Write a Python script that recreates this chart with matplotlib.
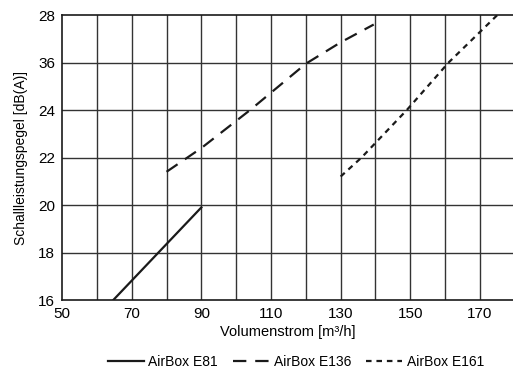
import matplotlib
matplotlib.use('Agg')
import matplotlib.pyplot as plt

plt.rcParams['font.family'] = ['Liberation Sans Narrow', 'Liberation Sans', 'DejaVu Sans']

# AirBox curves
e81_x = [64.7, 90]
e81_y = [16.0, 19.9]

e136_x = [80, 90, 104, 120, 130, 139.5]
e136_y = [21.4, 22.4, 24.0, 25.95, 26.85, 27.6]

e161_x = [130, 136, 149, 161, 175]
e161_y = [21.2, 22.0, 24.0, 26.0, 28.0]

x_ticks = [50, 70, 90, 110, 130, 150, 170]
y_ticks = [16, 18, 20, 22, 24, 26, 28]
y_tick_labels = ['16', '18', '20', '22', '24', '36', '28']

fig = plt.figure(figsize=(5.13, 3.76), dpi=100)
ax = fig.add_axes([0.121, 0.202, 0.879, 0.758])

# grid every 10 m3/h, every 2 dB
for gx in range(60, 180, 10):
    ax.axvline(gx, color='#333333', lw=1.0, zorder=1)
for gy in y_ticks[1:-1]:
    ax.axhline(gy, color='#333333', lw=1.0, zorder=1)

ax.plot(e81_x, e81_y, color='#1a1a1a', lw=1.6, label='AirBox E81', zorder=3)
ax.plot(e136_x, e136_y, color='#1a1a1a', lw=1.6, dashes=(6, 4), label='AirBox E136', zorder=3)
ax.plot(e161_x, e161_y, color='#1a1a1a', lw=1.6, dashes=(2.5, 2.2), label='AirBox E161', zorder=3)

ax.set_xlim(50, 179.5)
ax.set_ylim(16, 28)
ax.set_xticks(x_ticks)
ax.set_yticks(y_ticks)
ax.set_yticklabels(y_tick_labels)
ax.tick_params(length=0, labelsize=11, pad=5)

ax.spines['right'].set_visible(False)
for s in ['left', 'bottom', 'top']:
    ax.spines[s].set_color('#1a1a1a')
    ax.spines[s].set_linewidth(1.2)

ax.set_xlabel('Volumenstrom [m³/h]', fontsize=10.5, labelpad=3)
ax.set_ylabel('Schallleistungspegel [dB(A)]', fontsize=10, labelpad=7)

fig.legend(loc='center', bbox_to_anchor=(0.577, 0.037), ncol=3, frameon=False,
           fontsize=10, handlelength=2.6, handletextpad=0.3, columnspacing=1.1)

fig.savefig('out.png', dpi=100)
